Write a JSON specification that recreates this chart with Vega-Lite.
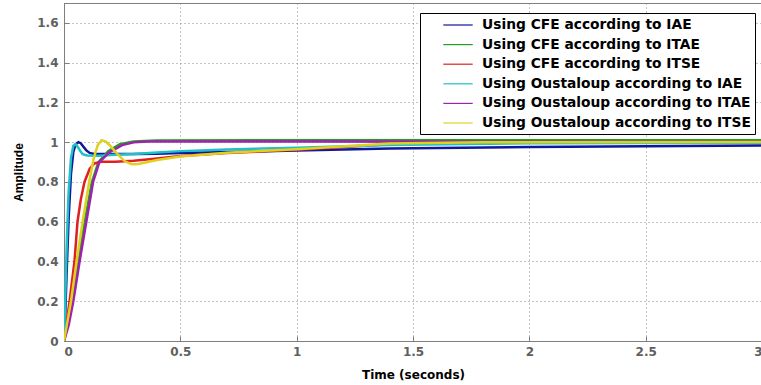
{
  "$schema": "https://vega.github.io/schema/vega-lite/v6.json",
  "autosize": "none",
  "width": 698,
  "height": 338,
  "padding": {"left": 64, "top": 3, "right": 0, "bottom": 44},
  "background": "white",
  "config": {
    "view": {"stroke": "#7f7f7f", "strokeWidth": 1},
    "axis": {
      "labelFont": "DejaVu Sans",
      "labelFontWeight": "bold",
      "labelFontSize": 12,
      "labelColor": "#606060",
      "titleFont": "DejaVu Sans",
      "titleFontWeight": "bold",
      "titleFontSize": 12,
      "titleColor": "#000000",
      "domainColor": "#7f7f7f",
      "tickColor": "#7f7f7f",
      "gridColor": "#888888",
      "gridDash": [1, 3],
      "gridOpacity": 1,
      "gridWidth": 1
    }
  },
  "data": {
    "values": [
      {"t": 0, "v": 0, "s": "Using CFE according to IAE"},
      {"t": 0.005, "v": 0.12, "s": "Using CFE according to IAE"},
      {"t": 0.01, "v": 0.3, "s": "Using CFE according to IAE"},
      {"t": 0.02, "v": 0.62, "s": "Using CFE according to IAE"},
      {"t": 0.03, "v": 0.84, "s": "Using CFE according to IAE"},
      {"t": 0.04, "v": 0.95, "s": "Using CFE according to IAE"},
      {"t": 0.05, "v": 0.99, "s": "Using CFE according to IAE"},
      {"t": 0.062, "v": 1.0, "s": "Using CFE according to IAE"},
      {"t": 0.072, "v": 0.995, "s": "Using CFE according to IAE"},
      {"t": 0.082, "v": 0.98, "s": "Using CFE according to IAE"},
      {"t": 0.095, "v": 0.96, "s": "Using CFE according to IAE"},
      {"t": 0.11, "v": 0.946, "s": "Using CFE according to IAE"},
      {"t": 0.13, "v": 0.941, "s": "Using CFE according to IAE"},
      {"t": 0.2, "v": 0.94, "s": "Using CFE according to IAE"},
      {"t": 0.3, "v": 0.94, "s": "Using CFE according to IAE"},
      {"t": 0.4, "v": 0.942, "s": "Using CFE according to IAE"},
      {"t": 0.5, "v": 0.945, "s": "Using CFE according to IAE"},
      {"t": 0.7, "v": 0.95, "s": "Using CFE according to IAE"},
      {"t": 1.0, "v": 0.958, "s": "Using CFE according to IAE"},
      {"t": 1.4, "v": 0.968, "s": "Using CFE according to IAE"},
      {"t": 2.0, "v": 0.976, "s": "Using CFE according to IAE"},
      {"t": 2.5, "v": 0.98, "s": "Using CFE according to IAE"},
      {"t": 3.0, "v": 0.983, "s": "Using CFE according to IAE"},

      {"t": 0, "v": 0, "s": "Using CFE according to ITAE"},
      {"t": 0.02, "v": 0.1, "s": "Using CFE according to ITAE"},
      {"t": 0.04, "v": 0.22, "s": "Using CFE according to ITAE"},
      {"t": 0.065, "v": 0.42, "s": "Using CFE according to ITAE"},
      {"t": 0.092, "v": 0.62, "s": "Using CFE according to ITAE"},
      {"t": 0.12, "v": 0.8, "s": "Using CFE according to ITAE"},
      {"t": 0.148, "v": 0.9, "s": "Using CFE according to ITAE"},
      {"t": 0.19, "v": 0.955, "s": "Using CFE according to ITAE"},
      {"t": 0.24, "v": 0.99, "s": "Using CFE according to ITAE"},
      {"t": 0.3, "v": 1.004, "s": "Using CFE according to ITAE"},
      {"t": 0.4, "v": 1.009, "s": "Using CFE according to ITAE"},
      {"t": 1.0, "v": 1.01, "s": "Using CFE according to ITAE"},
      {"t": 3.0, "v": 1.01, "s": "Using CFE according to ITAE"},

      {"t": 0, "v": 0, "s": "Using CFE according to ITSE"},
      {"t": 0.01, "v": 0.08, "s": "Using CFE according to ITSE"},
      {"t": 0.024, "v": 0.2, "s": "Using CFE according to ITSE"},
      {"t": 0.045, "v": 0.4, "s": "Using CFE according to ITSE"},
      {"t": 0.058, "v": 0.6, "s": "Using CFE according to ITSE"},
      {"t": 0.072, "v": 0.71, "s": "Using CFE according to ITSE"},
      {"t": 0.088, "v": 0.8, "s": "Using CFE according to ITSE"},
      {"t": 0.11, "v": 0.865, "s": "Using CFE according to ITSE"},
      {"t": 0.13, "v": 0.893, "s": "Using CFE according to ITSE"},
      {"t": 0.16, "v": 0.901, "s": "Using CFE according to ITSE"},
      {"t": 0.22, "v": 0.902, "s": "Using CFE according to ITSE"},
      {"t": 0.3, "v": 0.906, "s": "Using CFE according to ITSE"},
      {"t": 0.4, "v": 0.918, "s": "Using CFE according to ITSE"},
      {"t": 0.5, "v": 0.93, "s": "Using CFE according to ITSE"},
      {"t": 0.7, "v": 0.945, "s": "Using CFE according to ITSE"},
      {"t": 1.0, "v": 0.962, "s": "Using CFE according to ITSE"},
      {"t": 1.4, "v": 0.99, "s": "Using CFE according to ITSE"},
      {"t": 1.8, "v": 0.998, "s": "Using CFE according to ITSE"},
      {"t": 3.0, "v": 1.0, "s": "Using CFE according to ITSE"},

      {"t": 0, "v": 0, "s": "Using Oustaloup according to IAE"},
      {"t": 0.005, "v": 0.2, "s": "Using Oustaloup according to IAE"},
      {"t": 0.01, "v": 0.42, "s": "Using Oustaloup according to IAE"},
      {"t": 0.015, "v": 0.6, "s": "Using Oustaloup according to IAE"},
      {"t": 0.02, "v": 0.75, "s": "Using Oustaloup according to IAE"},
      {"t": 0.03, "v": 0.92, "s": "Using Oustaloup according to IAE"},
      {"t": 0.04, "v": 0.982, "s": "Using Oustaloup according to IAE"},
      {"t": 0.05, "v": 0.99, "s": "Using Oustaloup according to IAE"},
      {"t": 0.06, "v": 0.975, "s": "Using Oustaloup according to IAE"},
      {"t": 0.07, "v": 0.955, "s": "Using Oustaloup according to IAE"},
      {"t": 0.08, "v": 0.94, "s": "Using Oustaloup according to IAE"},
      {"t": 0.1, "v": 0.933, "s": "Using Oustaloup according to IAE"},
      {"t": 0.15, "v": 0.932, "s": "Using Oustaloup according to IAE"},
      {"t": 0.2, "v": 0.935, "s": "Using Oustaloup according to IAE"},
      {"t": 0.3, "v": 0.94, "s": "Using Oustaloup according to IAE"},
      {"t": 0.4, "v": 0.948, "s": "Using Oustaloup according to IAE"},
      {"t": 0.5, "v": 0.955, "s": "Using Oustaloup according to IAE"},
      {"t": 0.7, "v": 0.963, "s": "Using Oustaloup according to IAE"},
      {"t": 1.0, "v": 0.972, "s": "Using Oustaloup according to IAE"},
      {"t": 1.4, "v": 0.986, "s": "Using Oustaloup according to IAE"},
      {"t": 2.0, "v": 0.994, "s": "Using Oustaloup according to IAE"},
      {"t": 3.0, "v": 0.997, "s": "Using Oustaloup according to IAE"},

      {"t": 0, "v": 0, "s": "Using Oustaloup according to ITAE"},
      {"t": 0.02, "v": 0.08, "s": "Using Oustaloup according to ITAE"},
      {"t": 0.04, "v": 0.2, "s": "Using Oustaloup according to ITAE"},
      {"t": 0.067, "v": 0.4, "s": "Using Oustaloup according to ITAE"},
      {"t": 0.096, "v": 0.6, "s": "Using Oustaloup according to ITAE"},
      {"t": 0.125, "v": 0.8, "s": "Using Oustaloup according to ITAE"},
      {"t": 0.152, "v": 0.9, "s": "Using Oustaloup according to ITAE"},
      {"t": 0.196, "v": 0.95, "s": "Using Oustaloup according to ITAE"},
      {"t": 0.25, "v": 0.985, "s": "Using Oustaloup according to ITAE"},
      {"t": 0.3, "v": 0.999, "s": "Using Oustaloup according to ITAE"},
      {"t": 0.36, "v": 1.003, "s": "Using Oustaloup according to ITAE"},
      {"t": 1.0, "v": 1.003, "s": "Using Oustaloup according to ITAE"},
      {"t": 3.0, "v": 1.002, "s": "Using Oustaloup according to ITAE"},

      {"t": 0, "v": 0, "s": "Using Oustaloup according to ITSE"},
      {"t": 0.015, "v": 0.1, "s": "Using Oustaloup according to ITSE"},
      {"t": 0.03, "v": 0.2, "s": "Using Oustaloup according to ITSE"},
      {"t": 0.054, "v": 0.4, "s": "Using Oustaloup according to ITSE"},
      {"t": 0.08, "v": 0.6, "s": "Using Oustaloup according to ITSE"},
      {"t": 0.108, "v": 0.8, "s": "Using Oustaloup according to ITSE"},
      {"t": 0.128, "v": 0.92, "s": "Using Oustaloup according to ITSE"},
      {"t": 0.145, "v": 0.985, "s": "Using Oustaloup according to ITSE"},
      {"t": 0.162, "v": 1.01, "s": "Using Oustaloup according to ITSE"},
      {"t": 0.18, "v": 1.003, "s": "Using Oustaloup according to ITSE"},
      {"t": 0.2, "v": 0.98, "s": "Using Oustaloup according to ITSE"},
      {"t": 0.23, "v": 0.94, "s": "Using Oustaloup according to ITSE"},
      {"t": 0.26, "v": 0.905, "s": "Using Oustaloup according to ITSE"},
      {"t": 0.29, "v": 0.889, "s": "Using Oustaloup according to ITSE"},
      {"t": 0.32, "v": 0.89, "s": "Using Oustaloup according to ITSE"},
      {"t": 0.36, "v": 0.9, "s": "Using Oustaloup according to ITSE"},
      {"t": 0.4, "v": 0.91, "s": "Using Oustaloup according to ITSE"},
      {"t": 0.5, "v": 0.928, "s": "Using Oustaloup according to ITSE"},
      {"t": 0.7, "v": 0.947, "s": "Using Oustaloup according to ITSE"},
      {"t": 1.0, "v": 0.965, "s": "Using Oustaloup according to ITSE"},
      {"t": 1.4, "v": 0.993, "s": "Using Oustaloup according to ITSE"},
      {"t": 1.8, "v": 1.0, "s": "Using Oustaloup according to ITSE"},
      {"t": 3.0, "v": 1.001, "s": "Using Oustaloup according to ITSE"}
    ]
  },
  "mark": {"type": "line", "strokeWidth": 2.5, "clip": true},
  "encoding": {
    "x": {
      "field": "t",
      "type": "quantitative",
      "scale": {"domain": [0, 3], "nice": false},
      "axis": {
        "title": "Time (seconds)",
        "values": [0, 0.5, 1, 1.5, 2, 2.5, 3],
        "format": "~g",
        "tickSize": -5,
        "labelPadding": 10,
        "titleY": 28
      }
    },
    "y": {
      "field": "v",
      "type": "quantitative",
      "scale": {"domain": [0, 1.7], "nice": false},
      "axis": {
        "title": "Amplitude",
        "titleFont": "Liberation Sans",
        "values": [0, 0.2, 0.4, 0.6, 0.8, 1, 1.2, 1.4, 1.6],
        "format": "~g",
        "tickSize": -5,
        "labelPadding": 11,
        "titleX": -39
      }
    },
    "color": {
      "field": "s",
      "type": "nominal",
      "sort": null,
      "scale": {
        "domain": [
          "Using CFE according to IAE",
          "Using CFE according to ITAE",
          "Using CFE according to ITSE",
          "Using Oustaloup according to IAE",
          "Using Oustaloup according to ITAE",
          "Using Oustaloup according to ITSE"
        ],
        "range": ["#10189a", "#20a020", "#e02020", "#20c0c8", "#a020b0", "#e0d020"]
      },
      "legend": {
        "title": null,
        "orient": "none",
        "legendX": 356,
        "legendY": 10,
        "fillColor": "white",
        "strokeColor": "#000000",
        "padding": 4,
        "symbolType": "M-2.1,0H2.1",
        "symbolStrokeWidth": 1.2,
        "symbolSize": 196,
        "symbolOffset": 26,
        "labelFont": "DejaVu Sans",
        "labelFontWeight": "bold",
        "labelFontSize": 13.8,
        "labelColor": "#000000",
        "labelLimit": 400,
        "labelOffset": 16,
        "rowPadding": 4.6
      }
    }
  }
}
